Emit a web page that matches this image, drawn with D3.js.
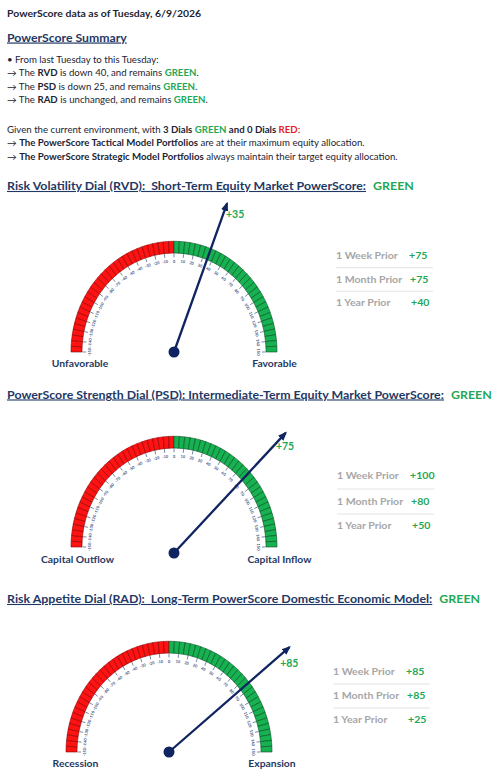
<!DOCTYPE html>
<html><head><meta charset="utf-8">
<script src="https://cdn.jsdelivr.net/npm/d3@7"></script>
<style>
html,body{margin:0;padding:0;background:#fff;}
svg{display:block;}
text{font-family:Lato,"Open Sans",sans-serif;}
</style></head>
<body>
<svg id="c" width="502" height="784"></svg>
<script>
// ---------- data ----------
const reportDate = "Tuesday, 6/9/2026";
const dialCodes = ["RVD", "PSD", "RAD"];
const dialTitles = [
  "Risk Volatility Dial (RVD):  Short-Term Equity Market PowerScore:",
  "PowerScore Strength Dial (PSD): Intermediate-Term Equity Market PowerScore:",
  "Risk Appetite Dial (RAD):  Long-Term PowerScore Domestic Economic Model:"
];
const dialStatus = ["GREEN", "GREEN", "GREEN"];
const dialValues = [35, 75, 85];
const weeklyChange = ["is down 40", "is down 25", "is unchanged"];
const leftLabels = ["Unfavorable", "Capital Outflow", "Recession"];
const rightLabels = ["Favorable", "Capital Inflow", "Expansion"];
const priorLabels = ["1 Week Prior", "1 Month Prior", "1 Year Prior"];
const priorValues = [[75, 75, 40], [100, 80, 50], [85, 85, 25]];
const scaleMin = -150, scaleMax = 150;
const tickValues = d3.range(-150, 151, 10);
const segmentStarts = d3.range(-150, 150, 5);

// ---------- styles ----------
const NAVY = "#1F3864", BODY = "#1c2434", GREEN = "#1FA855", RED = "#E8211D";
const GRAY = "#A6A6A6", NEEDLE = "#0F2460";

const svg = d3.select("#c");
const defs = svg.append("defs");
defs.append("marker").attr("id", "arr").attr("viewBox", "0 0 10 10")
  .attr("refX", 8).attr("refY", 5).attr("markerWidth", 4).attr("markerHeight", 4)
  .attr("orient", "auto").append("path").attr("d", "M0,1 L10,5 L0,9 z").attr("fill", NEEDLE);

function place(x, y, sx, size) {
  return svg.append("text").attr("transform", `translate(${x},${y}) scale(${sx},1)`)
    .style("font-size", size + "px").style("white-space", "pre");
}
function widthOf(sel) { return sel.node().getComputedTextLength(); }
function condense(sel, x, y, targetW) {
  const sx = targetW / widthOf(sel);
  sel.attr("transform", `translate(${x},${y}) scale(${sx},1)`);
  return sx;
}

// ---------- header text ----------
const topLine = place(7, 16.5, 1, 10.2).attr("fill", BODY).style("font-weight", 700)
  .text("PowerScore data as of " + reportDate);
condense(topLine, 7, 16.5, 194);

const sum = place(7, 41.5, 1, 11.8).attr("fill", NAVY).style("font-weight", 700)
  .style("text-decoration", "underline").text("PowerScore Summary");
condense(sum, 7, 41.5, 120);

const lines = [
  [["• From last Tuesday to this Tuesday:", 400, BODY]],
  ...dialCodes.map((c, i) => [["→ The ", 400, BODY], [c, 700, BODY], [" " + weeklyChange[i] + ", and remains ", 400, BODY], [dialStatus[i], 700, GREEN], [".", 400, BODY]]),
  null,
  [["Given the current environment, with ", 400, BODY], [dialStatus.filter(s => s === "GREEN").length + " Dials ", 700, BODY], ["GREEN", 700, GREEN], [" and ", 700, BODY], [dialStatus.filter(s => s === "RED").length + " Dials ", 700, BODY], ["RED", 700, RED], [":", 400, BODY]],
  [["→ ", 400, BODY], ["The PowerScore Tactical Model Portfolios", 700, BODY], [" are at their maximum equity allocation.", 400, BODY]],
  [["→ ", 400, BODY], ["The PowerScore Strategic Model Portfolios", 700, BODY], [" always maintain their target equity allocation.", 400, BODY]]
];
const lineY = [62.5, 76, 89.5, 103, null, 132.5, 146, 159.5];
const bodyTexts = [];
lines.forEach((ln, i) => {
  if (!ln) return;
  const t = place(7, lineY[i], 1, 9.1);
  ln.forEach(([s, w, c]) => t.append("tspan").attr("fill", c).style("font-weight", w).text(s));
  bodyTexts.push([t, lineY[i]]);
});
const bodySx = 391 / widthOf(bodyTexts[bodyTexts.length - 1][0]);
bodyTexts.forEach(([t, y]) => t.attr("transform", `translate(7,${y}) scale(${bodySx},1)`));

// ---------- dials layout ----------
const headerY = [190, 398.5, 603];
const centers = [[174, 352], [174, 547], [169, 752]];
const pivotDy = [0, 6, 0];
const needleLens = [148, 158, 155];
const leftLabelC = [80, 77.5, 75.5], rightLabelC = [274.5, 279.5, 272];
const tableX = [336, 337, 333];
const tableValX = [409, 410, 406];
const tableY = [[256, 279.5, 303], [476, 502, 526], [672, 696, 720]];
const rx = 103, rIn = 92, k = 1.075;

const ang = d3.scaleLinear().domain([scaleMin, scaleMax]).range([-Math.PI / 2, Math.PI / 2]);
const arc = d3.arc().innerRadius(rIn).outerRadius(rx);

let tmp = place(0, 0, 1, 11).style("font-weight", 700).text(dialTitles[1]);
const headSx = 437 / widthOf(tmp); tmp.remove();
tmp = place(0, 0, 1, 9.8).style("font-weight", 700).text(leftLabels[1]);
const endSx = 73 / widthOf(tmp); tmp.remove();
tmp = place(0, 0, 1, 9.4).style("font-weight", 700).text(priorLabels[1]);
const tabSx = 66 / widthOf(tmp); tmp.remove();

dialCodes.forEach((code, i) => {
  const h = place(7, headerY[i], headSx, 11).attr("fill", NAVY).style("font-weight", 700)
    .style("text-decoration", "underline").text(dialTitles[i]);
  const hw = widthOf(h) * headSx;
  place(7 + hw + 7, headerY[i], headSx, 11).attr("fill", GREEN).style("font-weight", 700).text(dialStatus[i]);

  const [cx, cy] = centers[i];
  const g = svg.append("g").attr("transform", `translate(${cx},${cy}) scale(1,${k})`);

  g.selectAll("path.seg").data(segmentStarts).join("path")
    .attr("d", v => arc({ startAngle: ang(v), endAngle: ang(v + 5) }))
    .attr("fill", v => v < 0 ? "#FF1212" : "#16B150")
    .attr("stroke", v => v < 0 ? "#8A0000" : "#0A4F25")
    .attr("stroke-width", 0.6).attr("vector-effect", "non-scaling-stroke");

  g.selectAll("line.tk").data(tickValues).join("line")
    .attr("x1", v => (rIn - 0.5) * Math.sin(ang(v))).attr("y1", v => -(rIn - 0.5) * Math.cos(ang(v)))
    .attr("x2", v => (rIn - 4) * Math.sin(ang(v))).attr("y2", v => -(rIn - 4) * Math.cos(ang(v)))
    .attr("stroke", NAVY).attr("stroke-width", 0.6).attr("vector-effect", "non-scaling-stroke");

  g.selectAll("text.tl").data(tickValues).join("text")
    .attr("transform", v => {
      const r = rIn - 7.5, a = ang(v);
      return `translate(${r * Math.sin(a)},${-r * Math.cos(a)}) rotate(${a * 180 / Math.PI})`;
    })
    .attr("text-anchor", "middle").attr("dy", "0.35em")
    .attr("fill", "#3A5080").style("font-size", "3.8px").style("font-weight", 700)
    .text(v => v);

  const a = ang(dialValues[i]);
  const L = needleLens[i];
  const py = cy + pivotDy[i];
  const tx = cx + L * Math.sin(a), ty = py - L * Math.cos(a) * k;
  svg.append("line").attr("x1", cx).attr("y1", py).attr("x2", tx).attr("y2", ty)
    .attr("stroke", NEEDLE).attr("stroke-width", 2.3).attr("marker-end", "url(#arr)");
  svg.append("circle").attr("cx", cx).attr("cy", py).attr("r", 5.5).attr("fill", NEEDLE);

  const la = a + 4.5 * Math.PI / 180, lr = 146 - (i === 0 ? 4 : 0);
  svg.append("text").attr("x", cx + lr * Math.sin(la)).attr("y", cy - lr * Math.cos(la) * k + (i === 1 ? 1 : 0))
    .attr("text-anchor", "middle").attr("dy", "0.36em").attr("fill", GREEN)
    .style("font-weight", 700).style("font-size", "10.5px").text("+" + dialValues[i]);

  [[leftLabels[i], leftLabelC[i]], [rightLabels[i], rightLabelC[i]]].forEach(([s, c]) => {
    svg.append("text").attr("transform", `translate(${c},${cy + 15 + (i === 1 ? 0.5 : 0)}) scale(${endSx},1)`)
      .attr("text-anchor", "middle").attr("fill", NAVY).style("font-weight", 700)
      .style("font-size", "9.8px").text(s);
  });

  priorLabels.forEach((lab, j) => {
    place(tableX[i], tableY[i][j] + 3.4, tabSx, 9.4).attr("fill", GRAY).style("font-weight", 700).text(lab);
    place(tableValX[i] + (j === 1 ? 1 : 0) + (j === 2 ? 2 : 0), tableY[i][j] + 3.4, tabSx, 9.4)
      .attr("fill", GREEN).style("font-weight", 700).text("+" + priorValues[i][j]);
    if (j < 2) {
      const ly = (tableY[i][j] + tableY[i][j + 1]) / 2;
      svg.append("line").attr("x1", tableX[i]).attr("x2", tableX[i] + 97).attr("y1", ly).attr("y2", ly)
        .attr("stroke", "#E3E3E3").attr("stroke-width", 1);
    }
  });
});
</script>
</body></html>
